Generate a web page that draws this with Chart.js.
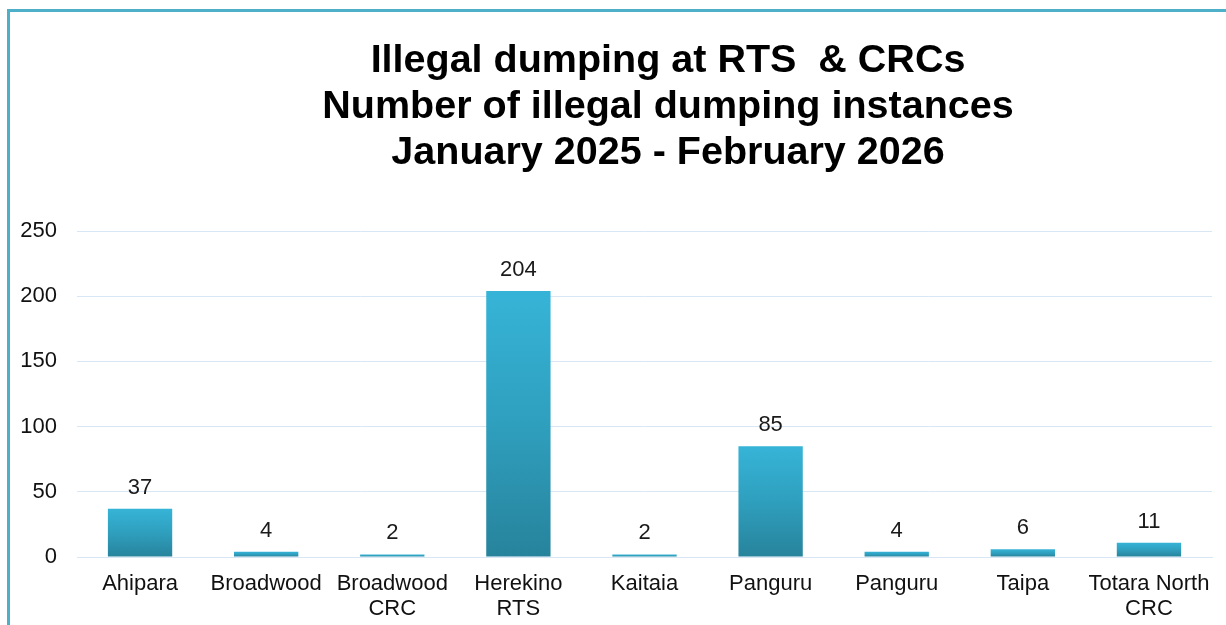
<!DOCTYPE html>
<html>
<head>
<meta charset="utf-8">
<script src="https://cdn.jsdelivr.net/npm/chart.js@4"></script>
<style>
  html, body { margin: 0; padding: 0; background: #fff; }
  #wrap { position: relative; width: 1226px; height: 625px; }
</style>
</head>
<body>
<div id="wrap"><canvas id="barChart" width="1226" height="625"></canvas></div>
<script>
var siteNames = [
	"Ahipara", "Broadwood", ["Broadwood", "CRC"], ["Herekino", "RTS"], "Kaitaia",
	"Panguru", "Panguru", "Taipa", ["Totara North", "CRC"]
];
var dumpingCounts = [37, 4, 2, 204, 2, 85, 4, 6, 11];
var titleLines = [
	"Illegal dumping at RTS  & CRCs",
	"Number of illegal dumping instances",
	"January 2025 - February 2026"
];
var yTicks = [0, 50, 100, 150, 200, 250];

// frame, title and value labels
var decorPlugin = {
	id: 'decor',
	afterDraw: function(chart) {
		var ctx = chart.ctx;
		ctx.save();
		ctx.strokeStyle = '#4eb0c8';
		ctx.lineWidth = 3;
		ctx.beginPath();
		ctx.moveTo(8.5, 625);
		ctx.lineTo(8.5, 10.5);
		ctx.lineTo(1226, 10.5);
		ctx.stroke();

		ctx.fillStyle = '#000';
		ctx.font = 'bold 39.5px "Liberation Sans", Arial, sans-serif';
		ctx.textAlign = 'center';
		ctx.textBaseline = 'middle';
		titleLines.forEach(function(line, i) {
			ctx.fillText(line, 668, 61 + i * 46);
		});

		ctx.font = '22px "Liberation Sans", Arial, sans-serif';
		ctx.fillStyle = '#1a1a1a';
		var meta = chart.getDatasetMeta(0);
		meta.data.forEach(function(bar, i) {
			ctx.fillText(String(dumpingCounts[i]), bar.x, bar.y - 21);
		});
		ctx.restore();
	}
};

function barGradient(context) {
	var chart = context.chart;
	if (!chart.chartArea || context.dataIndex === undefined) return '#33aed0';
	var y = chart.scales.y;
	var top = y.getPixelForValue(dumpingCounts[context.dataIndex]);
	var bottom = y.getPixelForValue(0);
	if (bottom - top < 1) return '#33aed0';
	var g = chart.ctx.createLinearGradient(0, top, 0, bottom);
	g.addColorStop(0, '#36b4d7');
	g.addColorStop(0.5, '#2f9fbe');
	g.addColorStop(1, '#27839c');
	return g;
}

var canvas = document.getElementById('barChart');
var ctx = canvas.getContext('2d');
var barChart = new Chart(ctx, {
	type: 'bar',
	data: {
		labels: siteNames,
		datasets: [{
			label: 'Illegal dumping instances',
			data: dumpingCounts,
			backgroundColor: barGradient,
			borderWidth: 0,
			categoryPercentage: 1,
			barPercentage: 0.51
		}]
	},
	options: {
		responsive: false,
		animation: false,
		layout: { padding: { top: 231, right: 14, left: 0, bottom: 0 } },
		plugins: {
			legend: { display: false },
			title: { display: false },
			tooltip: { enabled: false }
		},
		scales: {
			x: {
				grid: { display: false, drawTicks: false },
				border: { display: true, color: '#d9e6f5', width: 1 },
				ticks: {
					color: '#111',
					padding: 14,
					font: { family: '"Liberation Sans", Arial, sans-serif', size: 22, lineHeight: 1.15 },
					maxRotation: 0,
					autoSkip: false
				},
				afterFit: function(scale) { scale.height = 68; }
			},
			y: {
				min: 0,
				max: 250,
				afterBuildTicks: function(scale) {
					scale.ticks = yTicks.map(function(v) { return { value: v }; });
				},
				grid: { color: '#d9e6f5', lineWidth: 1, drawTicks: false },
				border: { display: false },
				ticks: {
					color: '#111',
					padding: 20,
					font: { family: '"Liberation Sans", Arial, sans-serif', size: 22 }
				},
				afterFit: function(scale) { scale.width = 77; }
			}
		}
	},
	plugins: [decorPlugin]
});
</script>
</body>
</html>
